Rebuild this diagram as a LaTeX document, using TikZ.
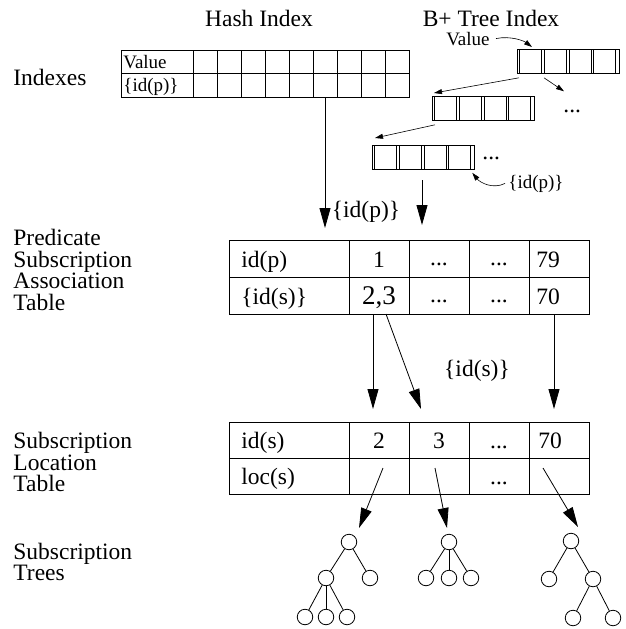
\documentclass[tikz,border=0pt]{standalone}
\usepackage{fontspec}
\setmainfont{Liberation Serif}
\usetikzlibrary{arrows.meta}

\newcommand{\lblfont}{\fontsize{23.5}{21.7}\selectfont}
\newcommand{\cellfont}{\fontsize{19}{19}\selectfont}
\newcommand{\bignum}{\fontsize{27}{27}\selectfont}

\tikzset{
  bnode/.style={draw, minimum width=101.5pt, minimum height=24pt, inner sep=0pt},
  treenode/.style={draw, circle, minimum size=15.5pt, inner sep=0pt},
  bigarrow/.style={-{Triangle[length=20pt,width=11pt]}},
  smallarrow/.style={-{Triangle[length=8pt,width=5pt]}, line width=0.6pt},
  txt/.style={anchor=base, font=\lblfont, inner sep=0pt},
}

% B+ tree node: name, x, y of upper left corner
\newcommand{\bplusnode}[3]{%
  \node[bnode, anchor=north west] (#1) at (#2,#3) {};
  \foreach \k in {0,...,3}{
    \draw ([xshift=\k*24.7pt+2.7pt]#1.north west) -- ([xshift=\k*24.7pt+2.7pt]#1.south west);
    \draw ([xshift=\k*24.7pt+24.7pt]#1.north west) -- ([xshift=\k*24.7pt+24.7pt]#1.south west);
  }
}

\begin{document}
\begin{tikzpicture}[x=1pt, y=-1pt, line width=0.8pt]
  \useasboundingbox (0,0) rectangle (625,629);

  % titles and row labels
  \node[txt] (thash) at (259,26) {Hash Index};
  \node[txt] (tbplus) at (491,26) {B+ Tree Index};
  \node[txt, anchor=base west] (lidx) at (13,85) {Indexes};
  \node[anchor=west, align=left, font=\lblfont, inner sep=0pt] (lpsat) at (13,270)
    {Predicate\\Subscription\\Association\\Table};
  \node[anchor=west, align=left, font=\lblfont, inner sep=0pt] (lslt) at (13,462)
    {Subscription\\Location\\Table};
  \node[anchor=west, align=left, font=\lblfont, inner sep=0pt] (ltree) at (13,562)
    {Subscription\\Trees};

  % hash index
  \draw (121,50) rectangle (409,97);
  \draw (121,73.5) -- (409,73.5);
  \foreach \x in {193,217,...,385}
    \draw (\x,50) -- (\x,97);
  \node[txt, anchor=base west, font=\cellfont] (hval) at (123,68) {Value};
  \node[txt, anchor=base west, font=\cellfont] (hidp) at (123,91.5) {\{id(p)\}};

  % B+ tree index
  \bplusnode{btop}{517}{49}
  \bplusnode{bmid}{432}{96}
  \bplusnode{blow}{372}{145}
  \node[txt, anchor=base east, font=\cellfont] (bval) at (490,45) {Value};
  \node[txt, anchor=base west, font=\cellfont] (bidp) at (508,188) {\{id(p)\}};
  \node[txt, anchor=base west] (bdotsA) at (563,112) {...};
  \node[txt, anchor=base west] (bdotsB) at (482,159) {...};
  \draw[smallarrow] ([xshift=6pt]bval.east) .. controls +(15,-3) and +(-8,-6) .. ([xshift=15pt,yshift=2pt]btop.north west);
  \draw[smallarrow] ([xshift=2pt,yshift=-4pt]btop.south west) -- ([xshift=2pt,yshift=3pt]bmid.north west);
  \draw[smallarrow] ([xshift=27pt,yshift=-4pt]btop.south west) -- ++(20,13.5);
  \draw[smallarrow] ([xshift=3pt,yshift=-4pt]bmid.south west) -- ([xshift=3pt,yshift=7pt]blow.north west);
  \draw[smallarrow] ([xshift=-3pt]bidp.west) .. controls +(-12,6) and +(8,10) .. ([xshift=-2pt,yshift=-3pt]blow.south east);

  % index lookups
  \coordinate (hashout) at (325,97);
  \coordinate (psatA) at (325,228);
  \coordinate (bout) at (422,180);
  \coordinate (psatB) at (422,225);
  \draw[bigarrow] (hashout) -- (psatA);
  \draw[bigarrow] (bout) -- (psatB);
  \node[txt] (lidp) at (366,217) {\{id(p)\}};

  % predicate subscription association table
  \draw (229,240) rectangle (589,314);
  \draw (229,277) -- (589,277);
  \foreach \x in {349,409,469,529}
    \draw (\x,240) -- (\x,314);
  \node[txt, anchor=base west] (pidp) at (241,267) {id(p)};
  \node[txt] (pone) at (379,267) {1};
  \node[txt] (pdotsA) at (439,265) {...};
  \node[txt] (pdotsB) at (499,265) {...};
  \node[txt, anchor=base west] (pend) at (536,267) {79};
  \node[txt, anchor=base west] (pids) at (241,304) {\{id(s)\}};
  \node[txt, font=\bignum] (ptwo) at (379,304) {2,3};
  \node[txt] (pdotsC) at (439,302) {...};
  \node[txt] (pdotsD) at (499,302) {...};
  \node[txt, anchor=base west] (pendB) at (536,304) {70};

  % subscription lookups
  \coordinate (psA) at (373,314);
  \coordinate (psB) at (386,314);
  \coordinate (psC) at (554,314);
  \coordinate (slA) at (373,409);
  \coordinate (slB) at (421,409);
  \coordinate (slC) at (554,409);
  \draw[bigarrow] (psA) -- (slA);
  \draw[bigarrow] (psB) -- (slB);
  \draw[bigarrow] (psC) -- (slC);
  \node[txt] (lids) at (477,376) {\{id(s)\}};

  % subscription location table
  \draw (229,422) rectangle (589,494);
  \draw (229,458) -- (589,458);
  \foreach \x in {349,409,469,529}
    \draw (\x,422) -- (\x,494);
  \node[txt, anchor=base west] (sids) at (241,448) {id(s)};
  \node[txt] (stwo) at (379,448) {2};
  \node[txt] (sthree) at (439,448) {3};
  \node[txt] (sdotsA) at (499,448) {...};
  \node[txt, anchor=base west] (send) at (538,448) {70};
  \node[txt, anchor=base west] (sloc) at (241,484) {loc(s)};
  \node[txt] (sdotsB) at (499,484) {...};

  % subscription trees
  \node[treenode] (ra) at (349,542) {};
  \node[treenode] (ral) at (326,578) {};
  \node[treenode] (rar) at (370,578) {};
  \node[treenode] (ralA) at (305,617) {};
  \node[treenode] (ralB) at (326,617) {};
  \node[treenode] (ralC) at (347,617) {};
  \draw (ra) -- (ral);
  \draw (ra) -- (rar);
  \draw (ral) -- (ralA);
  \draw (ral) -- (ralB);
  \draw (ral) -- (ralC);

  \node[treenode] (rb) at (449,542) {};
  \node[treenode] (rbA) at (426,578) {};
  \node[treenode] (rbB) at (449,578) {};
  \node[treenode] (rbC) at (471,578) {};
  \draw (rb) -- (rbA);
  \draw (rb) -- (rbB);
  \draw (rb) -- (rbC);

  \node[treenode] (rc) at (571,541) {};
  \node[treenode] (rcl) at (549,579) {};
  \node[treenode] (rcr) at (593,579) {};
  \node[treenode] (rcrA) at (573,618) {};
  \node[treenode] (rcrB) at (613,618) {};
  \draw (rc) -- (rcl);
  \draw (rc) -- (rcr);
  \draw (rcr) -- (rcrA);
  \draw (rcr) -- (rcrB);

  % locations to trees
  \coordinate (locA) at (383,468);
  \coordinate (locB) at (435,468);
  \coordinate (locC) at (543,468);
  \coordinate (tipA) at (359,528);
  \coordinate (tipB) at (447,528);
  \coordinate (tipC) at (578,527);
  \draw[bigarrow] (locA) -- (tipA);
  \draw[bigarrow] (locB) -- (tipB);
  \draw[bigarrow] (locC) -- (tipC);
\end{tikzpicture}
\end{document}
